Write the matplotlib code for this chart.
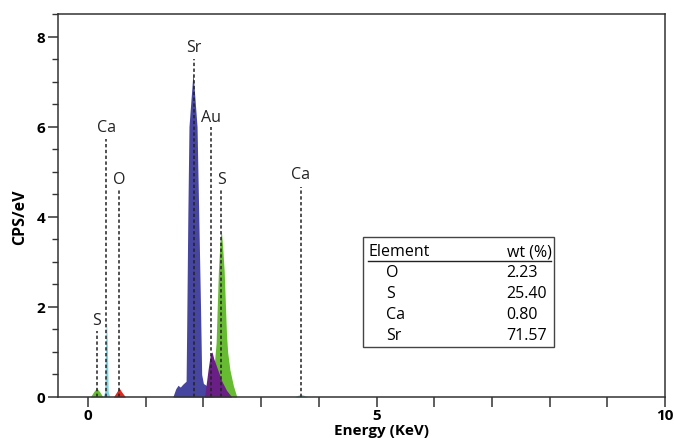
import matplotlib.pyplot as plt
from matplotlib.patches import Rectangle
from matplotlib.ticker import FixedLocator, FuncFormatter, MultipleLocator

plt.rcParams["font.family"] = ["Open Sans", "DejaVu Sans"]

# spectrum outlines (keV, CPS/eV)
sr_e = [1.47, 1.52, 1.56, 1.60, 1.64, 1.70, 1.71, 1.73, 1.75, 1.82, 1.89, 1.92, 1.95, 1.97, 2.00, 2.06, 2.12, 2.16]
sr_c = [0.0, 0.18, 0.26, 0.22, 0.28, 0.35, 1.5, 4.0, 6.0, 7.2, 6.0, 4.0, 2.0, 0.5, 0.3, 0.25, 0.1, 0.0]
s_e = [2.12, 2.18, 2.22, 2.26, 2.29, 2.31, 2.33, 2.36, 2.40, 2.42, 2.46, 2.52, 2.58]
s_c = [0.0, 0.6, 1.2, 2.8, 3.5, 3.7, 3.4, 2.8, 1.4, 1.0, 0.6, 0.25, 0.0]
au_e = [2.02, 2.05, 2.08, 2.12, 2.15, 2.18, 2.25, 2.32, 2.40, 2.49]
au_c = [0.0, 0.3, 0.6, 0.95, 1.0, 0.85, 0.6, 0.35, 0.15, 0.0]
s_low_e = [0.04, 0.10, 0.15, 0.20, 0.26]
s_low_c = [0.0, 0.12, 0.2, 0.12, 0.0]
ca_low_e = [0.26, 0.29, 0.305, 0.32, 0.335, 0.35, 0.38]
ca_low_c = [0.0, 0.12, 1.2, 1.7, 1.2, 0.12, 0.0]
o_e = [0.44, 0.50, 0.54, 0.58, 0.65]
o_c = [0.0, 0.12, 0.2, 0.12, 0.0]
ca_hi_e = [3.58, 3.64, 3.69, 3.74, 3.80]
ca_hi_c = [0.0, 0.04, 0.06, 0.04, 0.0]

# peak markers: label, energy, top of dashed line, label height
marker_names = ["S", "Ca", "O", "Sr", "Au", "S", "Ca"]
marker_e = [0.15, 0.32, 0.54, 1.83, 2.14, 2.31, 3.69]
marker_top = [1.47, 5.73, 4.62, 7.50, 6.00, 4.62, 4.67]
marker_lab = [1.71, 6.00, 4.84, 7.76, 6.22, 4.84, 4.95]

# quantification table
elements = ["O", "S", "Ca", "Sr"]
wt_pct = ["2.23", "25.40", "0.80", "71.57"]

fig = plt.figure(figsize=(6.74, 4.39), dpi=100)
ax = fig.add_axes([58 / 674, 41 / 439, 607 / 674, 383 / 439])

blue = "#4645a0"
purple = "#6a1f86"
green = "#66bb33"
cyan = "#7cd2de"
red = "#e2291f"

ax.fill_between(sr_e, sr_c, color=blue, lw=0)
ax.fill_between(s_e, s_c, color=green, lw=0)
ax.fill_between(au_e, au_c, color=purple, lw=0)
ax.fill_between(s_low_e, s_low_c, color=green, lw=0)
ax.fill_between(ca_low_e, ca_low_c, color=cyan, lw=0)
ax.fill_between(o_e, o_c, color=red, lw=0)
ax.fill_between(ca_hi_e, ca_hi_c, color=cyan, lw=0)

for name, e, top, lab in zip(marker_names, marker_e, marker_top, marker_lab):
    ax.plot([e, e], [0, top], color="#222222", lw=1.1, ls=(0, (2.2, 1.6)))
    ax.text(e, lab, name, ha="center", va="center", fontsize=11.5, color="#222222")

ax.set_xlim(-0.52, 10)
ax.set_ylim(0, 8.5)

ax.xaxis.set_major_locator(FixedLocator(range(0, 11)))
ax.xaxis.set_major_formatter(FuncFormatter(lambda v, p: f"{int(v)}" if v in (0, 5, 10) else ""))
ax.yaxis.set_major_locator(MultipleLocator(2))
ax.yaxis.set_minor_locator(MultipleLocator(0.5))
ax.tick_params(axis="both", which="major", length=7, width=1.1, color="#333333",
               labelsize=11, pad=2)
ax.tick_params(axis="x", which="major", pad=1)
ax.tick_params(axis="y", which="minor", length=4.5, width=1.0, color="#333333")
for lab in ax.get_xticklabels() + ax.get_yticklabels():
    lab.set_fontweight("bold")
for sp in ax.spines.values():
    sp.set_linewidth(1.1)
    sp.set_color("#333333")

fig.text(20 / 674, 1 - 217 / 439, "CPS/eV", rotation=90, ha="center", va="center",
         fontsize=11.5, fontweight="bold")
fig.text(381 / 674, 4 / 439, "Energy (KeV)", ha="center", va="baseline",
         fontsize=11, fontweight="bold")

# table box
ax.add_patch(Rectangle((0.502, 0.131), 0.315, 0.287, transform=ax.transAxes,
                       fill=False, ec="#444444", lw=1.0))
ax.text(0.511, 0.380, "Element", transform=ax.transAxes, fontsize=11.5, va="center")
ax.text(0.813, 0.380, "wt (%)", transform=ax.transAxes, fontsize=11.5, va="center", ha="right")
ax.plot([0.511, 0.813], [0.356, 0.356], transform=ax.transAxes, color="#222222", lw=1.0)
row_y = [0.326, 0.272, 0.217, 0.162]
for el, wt, y in zip(elements, wt_pct, row_y):
    ax.text(0.541, y, el, transform=ax.transAxes, fontsize=11.5, va="center")
    ax.text(0.738, y, wt, transform=ax.transAxes, fontsize=11.5, va="center")

fig.savefig("out.png", dpi=100)
